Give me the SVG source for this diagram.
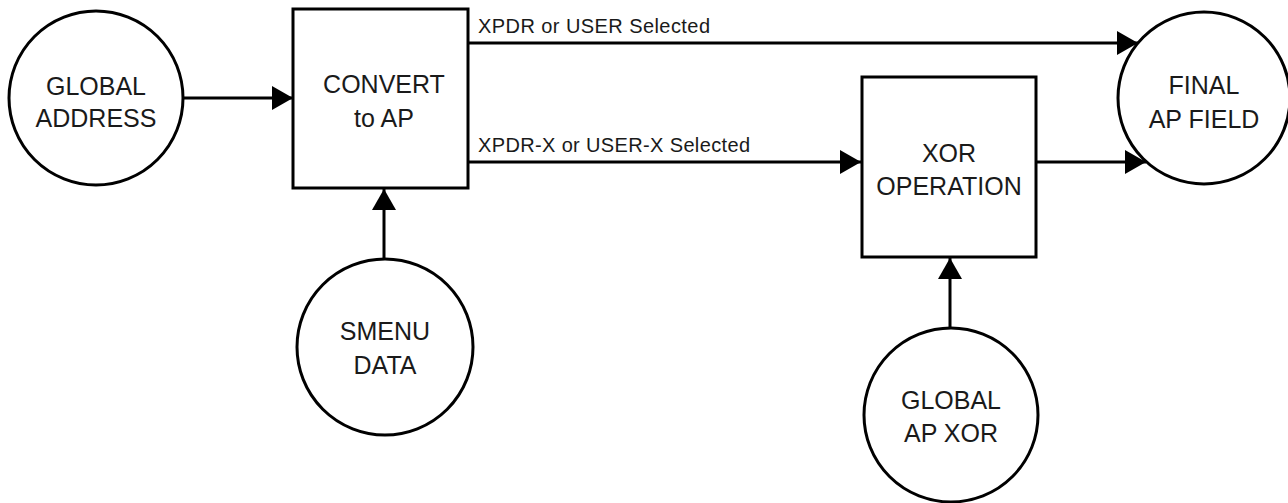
<svg xmlns="http://www.w3.org/2000/svg" width="1288" height="503" viewBox="0 0 1288 503">
<style>
.shape{fill:#fff;stroke:#000;stroke-width:3}
.lbl{font-family:"Liberation Sans",Arial,sans-serif;font-size:25px;fill:#1a1a1a;text-anchor:middle}
.elbl{font-family:"Liberation Sans",Arial,sans-serif;font-size:20px;fill:#1a1a1a}
.conn{fill:none;stroke:#000;stroke-width:3}
</style>
<defs>
<marker id="arr" markerUnits="userSpaceOnUse" markerWidth="22" markerHeight="24" refX="21" refY="12" orient="auto">
<path d="M0,0 L21,12 L0,24 Z" fill="#000"/>
</marker>
</defs>
<rect width="1288" height="503" fill="#fff"/>
<g id="connectors">
<line class="conn" x1="183" y1="98" x2="293" y2="98" marker-end="url(#arr)"/>
<line class="conn" x1="468" y1="43" x2="1138" y2="43" marker-end="url(#arr)"/>
<line class="conn" x1="468" y1="162" x2="861" y2="162" marker-end="url(#arr)"/>
<line class="conn" x1="1036" y1="162" x2="1146" y2="162" marker-end="url(#arr)"/>
<line class="conn" x1="384" y1="259" x2="384" y2="189" marker-end="url(#arr)"/>
<line class="conn" x1="950" y1="328" x2="950" y2="258" marker-end="url(#arr)"/>
<text class="elbl" x="478" y="33" textLength="232" lengthAdjust="spacing">XPDR or USER Selected</text>
<text class="elbl" x="478" y="152" textLength="272" lengthAdjust="spacing">XPDR-X or USER-X Selected</text>
</g>
<g id="global-address">
<circle class="shape" cx="96" cy="98" r="87"/>
<text class="lbl" x="96" y="95">GLOBAL</text>
<text class="lbl" x="96" y="127">ADDRESS</text>
</g>
<g id="convert-to-ap">
<rect class="shape" x="293" y="9" width="175" height="179"/>
<text class="lbl" x="384" y="93">CONVERT</text>
<text class="lbl" x="384" y="127">to AP</text>
</g>
<g id="smenu-data">
<circle class="shape" cx="385" cy="347" r="88"/>
<text class="lbl" x="385" y="340">SMENU</text>
<text class="lbl" x="385" y="374">DATA</text>
</g>
<g id="xor-operation">
<rect class="shape" x="862" y="77" width="174" height="180"/>
<text class="lbl" x="949" y="162">XOR</text>
<text class="lbl" x="949" y="195">OPERATION</text>
</g>
<g id="global-ap-xor">
<circle class="shape" cx="951" cy="415" r="87"/>
<text class="lbl" x="951" y="409">GLOBAL</text>
<text class="lbl" x="951" y="442">AP XOR</text>
</g>
<g id="final-ap-field">
<circle class="shape" cx="1204" cy="98" r="86"/>
<text class="lbl" x="1204" y="94">FINAL</text>
<text class="lbl" x="1204" y="128">AP FIELD</text>
</g>
</svg>
